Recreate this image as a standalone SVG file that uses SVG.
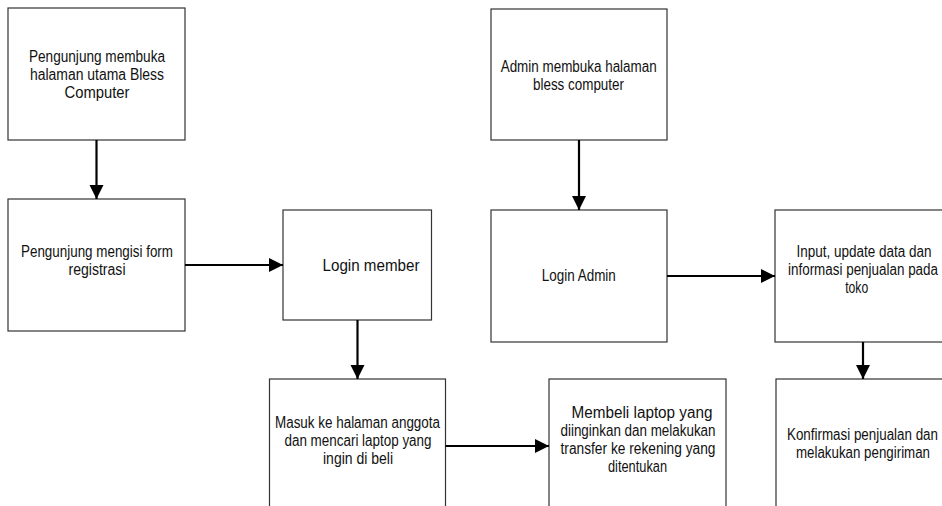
<svg xmlns="http://www.w3.org/2000/svg" width="942" height="506" viewBox="0 0 942 506">
  <style>
    .box { fill: #ffffff; stroke: #333333; stroke-width: 1.2; }
    .lbl { font-family: "Liberation Sans", Arial, sans-serif; font-size: 16px; fill: #111111; text-anchor: middle; }
    .flow { stroke: #000000; stroke-width: 2.2; fill: none; marker-end: url(#head); }
  </style>
  <defs>
    <marker id="head" markerUnits="userSpaceOnUse" markerWidth="15" markerHeight="15" refX="14" refY="7" orient="auto">
      <path d="M0,0 L14,7 L0,14 z" fill="#000000"/>
    </marker>
  </defs>
  <rect width="942" height="506" fill="#ffffff"/>

  <!-- visitor flow -->
  <g id="visitor-open-home">
    <rect class="box" x="8" y="8" width="177" height="132"/>
    <text class="lbl" x="97" y="62" textLength="136" lengthAdjust="spacingAndGlyphs">Pengunjung membuka</text>
    <text class="lbl" x="97" y="80" textLength="134" lengthAdjust="spacingAndGlyphs">halaman utama Bless</text>
    <text class="lbl" x="97" y="98" textLength="65" lengthAdjust="spacingAndGlyphs">Computer</text>
  </g>
  <g id="visitor-register">
    <rect class="box" x="8" y="199" width="177" height="132"/>
    <text class="lbl" x="97" y="257" textLength="152" lengthAdjust="spacingAndGlyphs">Pengunjung mengisi form</text>
    <text class="lbl" x="97" y="275" textLength="57" lengthAdjust="spacingAndGlyphs">registrasi</text>
  </g>
  <g id="member-login">
    <rect class="box" x="283" y="210" width="148.5" height="110"/>
    <text class="lbl" x="371" y="271" textLength="97" lengthAdjust="spacingAndGlyphs">Login member</text>
  </g>
  <g id="member-browse">
    <rect class="box" x="269.5" y="379" width="176" height="150"/>
    <text class="lbl" x="357.5" y="428" textLength="165" lengthAdjust="spacingAndGlyphs">Masuk ke halaman anggota</text>
    <text class="lbl" x="358" y="446" textLength="147" lengthAdjust="spacingAndGlyphs">dan mencari laptop yang</text>
    <text class="lbl" x="358" y="464" textLength="70" lengthAdjust="spacingAndGlyphs">ingin di beli</text>
  </g>
  <g id="member-buy">
    <rect class="box" x="549" y="379" width="177" height="150"/>
    <text class="lbl" x="642" y="418" textLength="141" lengthAdjust="spacingAndGlyphs">Membeli laptop yang</text>
    <text class="lbl" x="638" y="436" textLength="155" lengthAdjust="spacingAndGlyphs">diinginkan dan melakukan</text>
    <text class="lbl" x="638" y="454" textLength="155" lengthAdjust="spacingAndGlyphs">transfer ke rekening yang</text>
    <text class="lbl" x="637.5" y="472" textLength="59" lengthAdjust="spacingAndGlyphs">ditentukan</text>
  </g>

  <!-- admin flow -->
  <g id="admin-open">
    <rect class="box" x="491" y="9" width="176" height="131"/>
    <text class="lbl" x="578.7" y="72" textLength="156" lengthAdjust="spacingAndGlyphs">Admin membuka halaman</text>
    <text class="lbl" x="578.5" y="90" textLength="91" lengthAdjust="spacingAndGlyphs">bless computer</text>
  </g>
  <g id="admin-login">
    <rect class="box" x="491" y="210" width="176" height="132"/>
    <text class="lbl" x="578.8" y="281" textLength="74" lengthAdjust="spacingAndGlyphs">Login Admin</text>
  </g>
  <g id="admin-update">
    <rect class="box" x="775" y="210" width="200" height="132"/>
    <text class="lbl" x="864" y="257" textLength="135" lengthAdjust="spacingAndGlyphs">Input, update data dan</text>
    <text class="lbl" x="863" y="275" textLength="150" lengthAdjust="spacingAndGlyphs">informasi penjualan pada</text>
    <text class="lbl" x="856.7" y="293" textLength="23" lengthAdjust="spacingAndGlyphs">toko</text>
  </g>
  <g id="admin-confirm">
    <rect class="box" x="776" y="379" width="200" height="150"/>
    <text class="lbl" x="862.5" y="440" textLength="151" lengthAdjust="spacingAndGlyphs">Konfirmasi penjualan dan</text>
    <text class="lbl" x="863" y="458" textLength="134" lengthAdjust="spacingAndGlyphs">melakukan pengiriman</text>
  </g>

  <!-- connectors -->
  <g id="connectors">
    <line class="flow" x1="96.5" y1="140" x2="96.5" y2="199"/>
    <line class="flow" x1="185" y1="265" x2="283" y2="265"/>
    <line class="flow" x1="357.5" y1="320" x2="357.5" y2="379"/>
    <line class="flow" x1="445.5" y1="446" x2="549" y2="446"/>
    <line class="flow" x1="579" y1="140" x2="579" y2="210"/>
    <line class="flow" x1="667" y1="276" x2="775" y2="276"/>
    <line class="flow" x1="863" y1="342" x2="863" y2="379"/>
  </g>
</svg>
